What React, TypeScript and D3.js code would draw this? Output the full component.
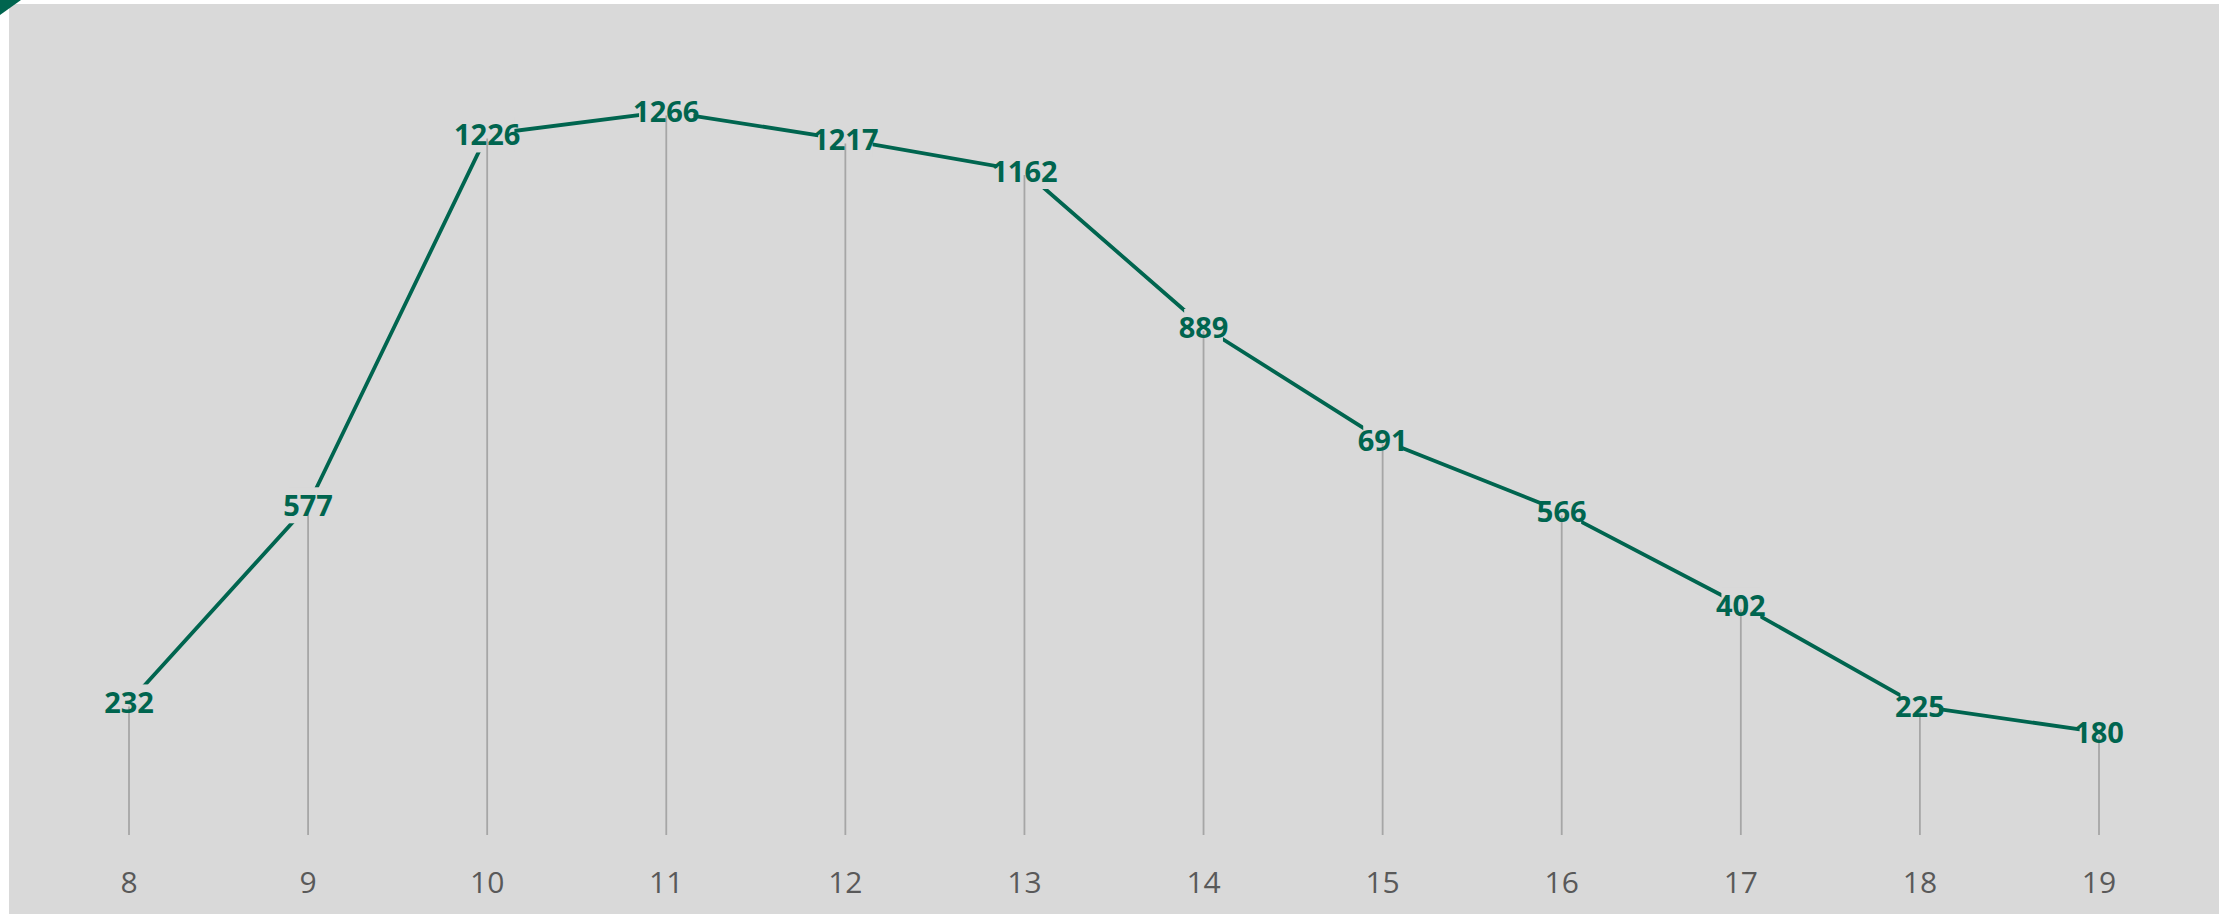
import React from 'react';
import { scalePoint, scaleLinear, line } from 'd3';

const hours = ['8', '9', '10', '11', '12', '13', '14', '15', '16', '17', '18', '19'];
const counts = [232, 577, 1226, 1266, 1217, 1162, 889, 691, 566, 402, 225, 180];

const width = 2226;
const height = 914;
const green = '#00654f';
const bg = '#d9d9d9';
const font = '"Open Sans", "Liberation Sans", sans-serif';

const App = () => {
  const xScale = scalePoint<string>()
    .domain(hours)
    .range([129, 2099]);

  const yScale = scaleLinear()
    .domain([0, 1400])
    .range([835, 35]);

  const data = hours.map((h, i) => ({ h, v: counts[i] }));

  const path = line<{ h: string; v: number }>()
    .x(d => xScale(d.h) as number)
    .y(d => yScale(d.v))(data);

  return (
    <svg
      width={width}
      height={height}
      style={{ position: 'absolute', left: 0, top: 0, background: '#fff' }}
    >
      <rect x={9} y={4} width={2210} height={height - 4} fill={bg} />
      <path d="M0,0 L21,0 L0,15 Z" fill={green} />

      <path d={path || ''} fill="none" stroke={green} strokeWidth={3.8} strokeLinejoin="round" />

      {data.map(d => {
        const w = String(d.v).length * 15.6 - 8;
        return (
          <rect
            key={'bg' + d.h}
            x={(xScale(d.h) as number) - w / 2}
            y={yScale(d.v) - 18}
            width={w}
            height={36}
            fill={bg}
          />
        );
      })}

      {data.map(d => (
        <line
          key={'drop' + d.h}
          x1={xScale(d.h)}
          x2={xScale(d.h)}
          y1={yScale(d.v) + 4}
          y2={yScale(0)}
          stroke="#a6a6a6"
          strokeWidth={1.8}
        />
      ))}

      {data.map(d => (
        <text
          key={'lbl' + d.h}
          x={xScale(d.h)}
          y={yScale(d.v) + 10.5}
          textAnchor="middle"
          fontFamily={font}
          fontWeight="bold"
          fontSize={29}
          fill={green}
        >
          {d.v}
        </text>
      ))}

      {hours.map(h => (
        <text
          key={'tick' + h}
          x={xScale(h)}
          y={893}
          textAnchor="middle"
          fontFamily={font}
          fontSize={30}
          fill="#595959"
        >
          {h}
        </text>
      ))}
    </svg>
  );
};

export default App;
